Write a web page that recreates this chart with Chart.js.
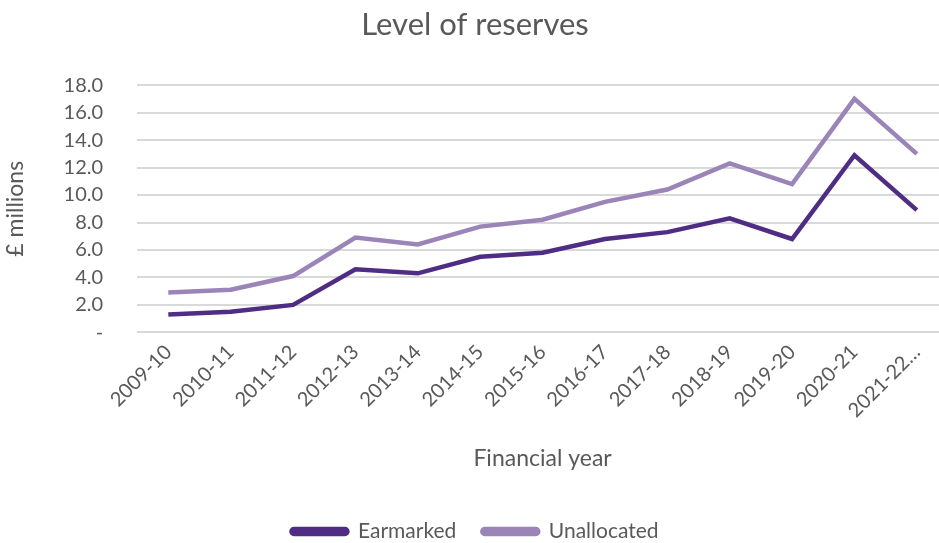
<!DOCTYPE html>
<html>
<head>
<meta charset="utf-8">
<script src="https://cdn.jsdelivr.net/npm/chart.js@4"></script>
<style>
  html, body { margin: 0; padding: 0; background: #fff; overflow: hidden; }
  #wrap { width: 948px; height: 543px; }
</style>
</head>
<body>
<div id="wrap"><canvas id="reservesChart"></canvas></div>
<script>
// Financial years on the x axis
var years = ['2009-10', '2010-11', '2011-12', '2012-13', '2013-14', '2014-15', '2015-16',
             '2016-17', '2017-18', '2018-19', '2019-20', '2020-21', '2021-22\u2026'];

// Reserves, £ millions
var earmarked   = [1.3, 1.5, 2.0, 4.6, 4.3, 5.5, 5.8, 6.8, 7.3, 8.3, 6.8, 12.9, 8.9];
var unallocated = [2.9, 3.1, 4.1, 6.9, 6.4, 7.7, 8.2, 9.5, 10.4, 12.3, 10.8, 17.0, 13.0];

var grey = '#595959';
var fontFamily = 'Lato, "Noto Sans", sans-serif';

var ctx = document.getElementById('reservesChart').getContext('2d');
var reservesChart = new Chart(ctx, {
    type: 'line',
    data: {
        labels: years,
        datasets: [{
            label: 'Earmarked',
            data: earmarked,
            borderColor: '#4f2d84',
            backgroundColor: '#4f2d84',
            borderWidth: 4.5,
            pointRadius: 0,
            tension: 0,
            fill: false
        }, {
            label: 'Unallocated',
            data: unallocated,
            borderColor: '#9a84b8',
            backgroundColor: '#9a84b8',
            borderWidth: 4.5,
            pointRadius: 0,
            tension: 0,
            fill: false
        }]
    },
    options: {
        responsive: true,
        maintainAspectRatio: false,
        animation: false,
        layout: {
            padding: { left: 2, right: 0, top: 6, bottom: -9 }
        },
        plugins: {
            title: {
                display: true,
                text: 'Level of reserves',
                color: grey,
                font: { family: fontFamily, size: 31, weight: 'normal' },
                padding: { top: 0, bottom: 42 }
            },
            legend: {
                position: 'bottom',
                labels: {
                    color: grey,
                    font: { family: fontFamily, size: 21 },
                    boxWidth: 56,
                    boxHeight: 5,
                    useBorderRadius: true,
                    borderRadius: 2.5,
                    padding: 26
                }
            },
            tooltip: { enabled: false }
        },
        scales: {
            x: {
                offset: true,
                grid: { display: false, drawTicks: false },
                border: { display: false },
                ticks: {
                    color: grey,
                    font: { family: fontFamily, size: 20 },
                    maxRotation: 45,
                    minRotation: 45,
                    autoSkip: false,
                    padding: 8
                },
                title: {
                    display: true,
                    text: 'Financial year',
                    color: grey,
                    font: { family: fontFamily, size: 23 },
                    padding: { top: 14, bottom: 23 }
                }
            },
            y: {
                min: 0,
                max: 18,
                grid: { color: '#d9d9d9', lineWidth: 2, drawTicks: false },
                border: { display: false },
                ticks: {
                    stepSize: 2,
                    autoSkip: false,
                    color: grey,
                    font: { family: fontFamily, size: 20 },
                    padding: 34,
                    callback: function(value) {
                        return value === 0 ? '-' : value.toFixed(1);
                    }
                },
                title: {
                    display: true,
                    text: '\u00a3 millions',
                    color: grey,
                    font: { family: fontFamily, size: 23 },
                    padding: { top: 0, bottom: 0 }
                }
            }
        }
    }
});
</script>
</body>
</html>
